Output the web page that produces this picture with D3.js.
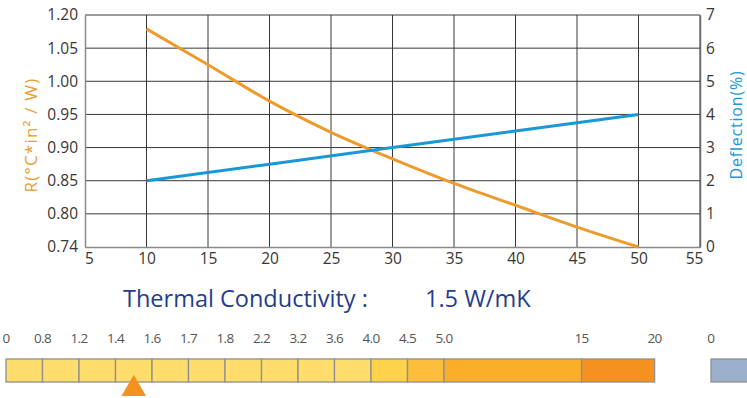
<!DOCTYPE html>
<html>
<head>
<meta charset="utf-8">
<script src="https://cdn.jsdelivr.net/npm/d3@7"></script>
<style>
  body { margin: 0; background: #fff; }
  svg { display: block; font-family: "Open Sans", sans-serif; }
</style>
</head>
<body>
<svg id="chart" width="747" height="398"></svg>
<script>
// chart values
let thickness = [10, 15, 20, 25, 30, 35, 40, 45, 50];
let resistance = [1.137, 1.025, 0.970, 0.923, 0.883, 0.846, 0.813, 0.776, 0.74];
let deflThick = [10, 20, 30, 40, 50];
let deflection = [2, 2.5, 3, 3.5, 4];

let xTicks = [5, 10, 15, 20, 25, 30, 35, 40, 45, 50, 55];
let leftTicks = [1.20, 1.05, 1.00, 0.95, 0.90, 0.85, 0.80, 0.74];
let rightTicks = [7, 6, 5, 4, 3, 2, 1, 0];

let conductivity = 1.5;
let scaleBreaks = [0, 0.8, 1.2, 1.4, 1.6, 1.7, 1.8, 2.2, 3.2, 3.6, 4.0, 4.5, 5.0, 15, 20];
let scaleLabels = ['0', '0.8', '1.2', '1.4', '1.6', '1.7', '1.8', '2.2', '3.2', '3.6', '4.0', '4.5', '5.0', '15', '20'];
let cellColors = ['#fedd6c', '#fedd6c', '#fedd6c', '#fedd6c', '#fedd6c', '#fedd6c', '#fedd6c', '#fedd6c', '#fedd6c', '#fedd6c',
  '#fed34b', '#fdbe3b', '#fbae29', '#f5921f'];

let svg = d3.select('#chart');
let orange = '#ed9b2c', blue = '#1a98d6';

let x = d3.scaleLinear().domain([5, 55]).range([85, 700]);
let yRight = d3.scaleLinear().domain([0, 7]).range([247, 15]);
// left axis ticks are evenly spaced but not evenly valued
let yLeft = d3.scaleLinear()
  .domain(leftTicks.slice().reverse())
  .range(leftTicks.slice().reverse().map((d, i) => yRight(i)));

// grid
let grid = svg.append('g').attr('stroke', '#3b3636').attr('stroke-width', 1);
grid.selectAll('.v').data(xTicks.slice(1))
  .join('line')
  .attr('x1', d => x(d)).attr('x2', d => x(d))
  .attr('y1', 15).attr('y2', 247);
grid.selectAll('.h').data(rightTicks.slice(0, -1))
  .join('line')
  .attr('x1', 85).attr('x2', 700)
  .attr('y1', d => yRight(d)).attr('y2', d => yRight(d));

// axes
let xAxis = d3.axisBottom(x).tickValues(xTicks).tickSize(0).tickPadding(6);
svg.append('g').attr('transform', 'translate(0,247)').call(xAxis)
  .call(g => g.select('.domain').attr('stroke', '#8c8888').attr('stroke-width', 1.5))
  .call(g => g.selectAll('.tick text').attr('dx', (d, i) => i == 0 ? 4 : (i == xTicks.length - 1 ? -6 : 0)));

let lAxis = d3.axisLeft(yLeft).tickValues(leftTicks).tickFormat(d3.format('.2f')).tickSize(0).tickPadding(7);
svg.append('g').attr('transform', 'translate(85,0)').call(lAxis)
  .call(g => g.select('.domain').attr('stroke', '#8c8888').attr('stroke-width', 1.5));

let rAxis = d3.axisRight(yRight).tickValues(rightTicks).tickFormat(d3.format('d')).tickSize(0).tickPadding(6);
svg.append('g').attr('transform', 'translate(700,0)').call(rAxis)
  .call(g => g.select('.domain').attr('stroke', '#6e6a6a').attr('stroke-width', 1.5));

svg.selectAll('.tick text').attr('font-size', 15.5).attr('fill', '#3a3535')
  .attr('font-family', '"Open Sans", sans-serif');

// lines
let rLine = d3.line().x((d, i) => x(thickness[i])).y(d => yLeft(d)).curve(d3.curveMonotoneX);
svg.append('path').attr('d', rLine(resistance))
  .attr('fill', 'none').attr('stroke', orange).attr('stroke-width', 3);

let dLine = d3.line().x((d, i) => x(deflThick[i])).y(d => yRight(d));
svg.append('path').attr('d', dLine(deflection))
  .attr('fill', 'none').attr('stroke', blue).attr('stroke-width', 3);

// axis titles
svg.append('text').text('R(°C*in² / W)')
  .attr('transform', 'translate(37,135)rotate(-90)')
  .attr('text-anchor', 'middle').attr('font-size', 17).attr('letter-spacing', 1.2).attr('fill', orange);
svg.append('text').text('Deflection(%)')
  .attr('transform', 'translate(742,125)rotate(-90)')
  .attr('text-anchor', 'middle').attr('font-size', 16).attr('letter-spacing', 0.8).attr('fill', blue);

// conductivity heading
svg.append('text').text('Thermal Conductivity :')
  .attr('x', 123).attr('y', 307).attr('font-size', 23.5).attr('fill', '#1f3e8e');
svg.append('text').text(conductivity + ' W/mK')
  .attr('x', 425).attr('y', 307).attr('font-size', 23.5).attr('fill', '#1f3e8e');

// conductivity scale bar
let cellSpan = [0, 1, 1, 1, 1, 1, 1, 1, 1, 1, 1, 1, 1, 3.77, 2];
let cum = d3.cumsum(cellSpan);
let kx = d3.scaleLinear().domain(scaleBreaks).range(Array.from(cum, c => 6 + c * 36.5));

let cells = d3.pairs(scaleBreaks).map((p, i) => ({ a: p[0], b: p[1], c: cellColors[i] }));
svg.append('g').selectAll('rect').data(cells)
  .join('rect')
  .attr('x', d => kx(d.a)).attr('width', d => kx(d.b) - kx(d.a))
  .attr('y', 359).attr('height', 23)
  .attr('fill', d => d.c).attr('stroke', '#8f8f8f').attr('stroke-width', 1.3);

svg.append('g').selectAll('text').data(scaleBreaks)
  .join('text')
  .attr('x', d => kx(d)).attr('y', 343)
  .attr('text-anchor', 'middle').attr('font-size', 13.5).attr('letter-spacing', -0.6)
  .attr('fill', '#555')
  .text((d, i) => scaleLabels[i]);

// second scale start (cut off at the right edge)
svg.append('rect').attr('x', 711).attr('y', 359).attr('width', 60).attr('height', 23)
  .attr('fill', '#9bb0ca').attr('stroke', '#8f8f8f').attr('stroke-width', 1.3);
svg.append('text').text('0').attr('x', 711).attr('y', 343)
  .attr('text-anchor', 'middle').attr('font-size', 13.5).attr('fill', '#555');

// marker
let tx = kx(conductivity);
svg.append('path')
  .attr('d', d3.symbol(d3.symbolTriangle, 260)())
  .attr('transform', `translate(${tx},${389})`)
  .attr('fill', '#f39121');
</script>
</body>
</html>
